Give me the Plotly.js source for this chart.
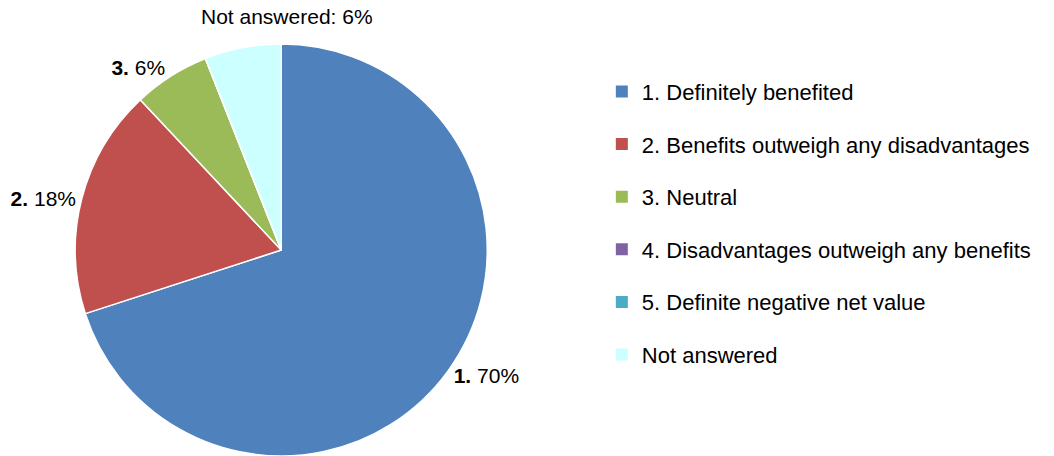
<!DOCTYPE html>
<html><head><meta charset="utf-8">
<script src="https://cdn.plot.ly/plotly-3.0.1.min.js"></script>
<style>html,body{margin:0;padding:0;background:#fff}</style>
</head><body><div id="chart" style="width:1054px;height:456px"></div>
<script>
var categories = ["1. Definitely benefited", "2. Benefits outweigh any disadvantages", "3. Neutral", "4. Disadvantages outweigh any benefits", "5. Definite negative net value", "Not answered"];
var shortLabels = ["1.", "2.", "3.", "4.", "5.", "Not answered:"];
var values = [70, 18, 6, 0, 0, 6];
var colors = ["#4F81BD", "#C0504D", "#9BBB59", "#8064A2", "#4BACC6", "#CCFFFF"];

var lastIdx = categories.length - 1;
var texts = values.map(function(v, i){
  if (v === 0 || i === lastIdx) return "";
  return "<b>" + shortLabels[i] + "</b> " + v + "%";
});
var topLabel = shortLabels[lastIdx] + " " + values[lastIdx] + "%";

var pieDomain = {x: [0.0714, 0.4623], y: [0, 0.9035]};
var labelFont = {family: "Liberation Sans, Arial, sans-serif", size: 21, color: "#000"};

var traces = [{
  type: "pie",
  labels: categories,
  values: values,
  text: texts,
  texttemplate: "%{text}",
  textinfo: "text",
  textposition: "outside",
  sort: false,
  direction: "clockwise",
  rotation: 0,
  marker: {colors: colors, line: {color: "#ffffff", width: 1.5}},
  outsidetextfont: labelFont,
  domain: pieDomain,
  showlegend: false,
  hoverinfo: "label+percent"
}];
categories.forEach(function(c, i){
  traces.push({
    type: "scatter", mode: "markers", x: [null], y: [null], name: c,
    legendgroup: "g" + i,
    marker: {symbol: "square", size: 12, color: colors[i]},
    showlegend: true, hoverinfo: "skip"
  });
});

var layout = {
  width: 1054, height: 456,
  margin: {l: 0, r: 0, t: 0, b: 0},
  paper_bgcolor: "#fff", plot_bgcolor: "#fff",
  xaxis: {visible: false}, yaxis: {visible: false},
  showlegend: true,
  legend: {x: 0.571, xanchor: "left", y: 0.845, yanchor: "top",
    font: {family: "Liberation Sans, Arial, sans-serif", size: 22, color: "#000"},
    tracegroupgap: 21, bgcolor: "rgba(0,0,0,0)"},
  annotations: [{
    text: topLabel, xref: "paper", yref: "paper",
    x: (pieDomain.x[0] + pieDomain.x[1]) / 2, xanchor: "center", xshift: 6,
    y: 1, yanchor: "top", yshift: -3,
    showarrow: false, font: labelFont
  }]
};
Plotly.newPlot("chart", traces, layout, {displayModeBar: false, staticPlot: true});
</script></body></html>
